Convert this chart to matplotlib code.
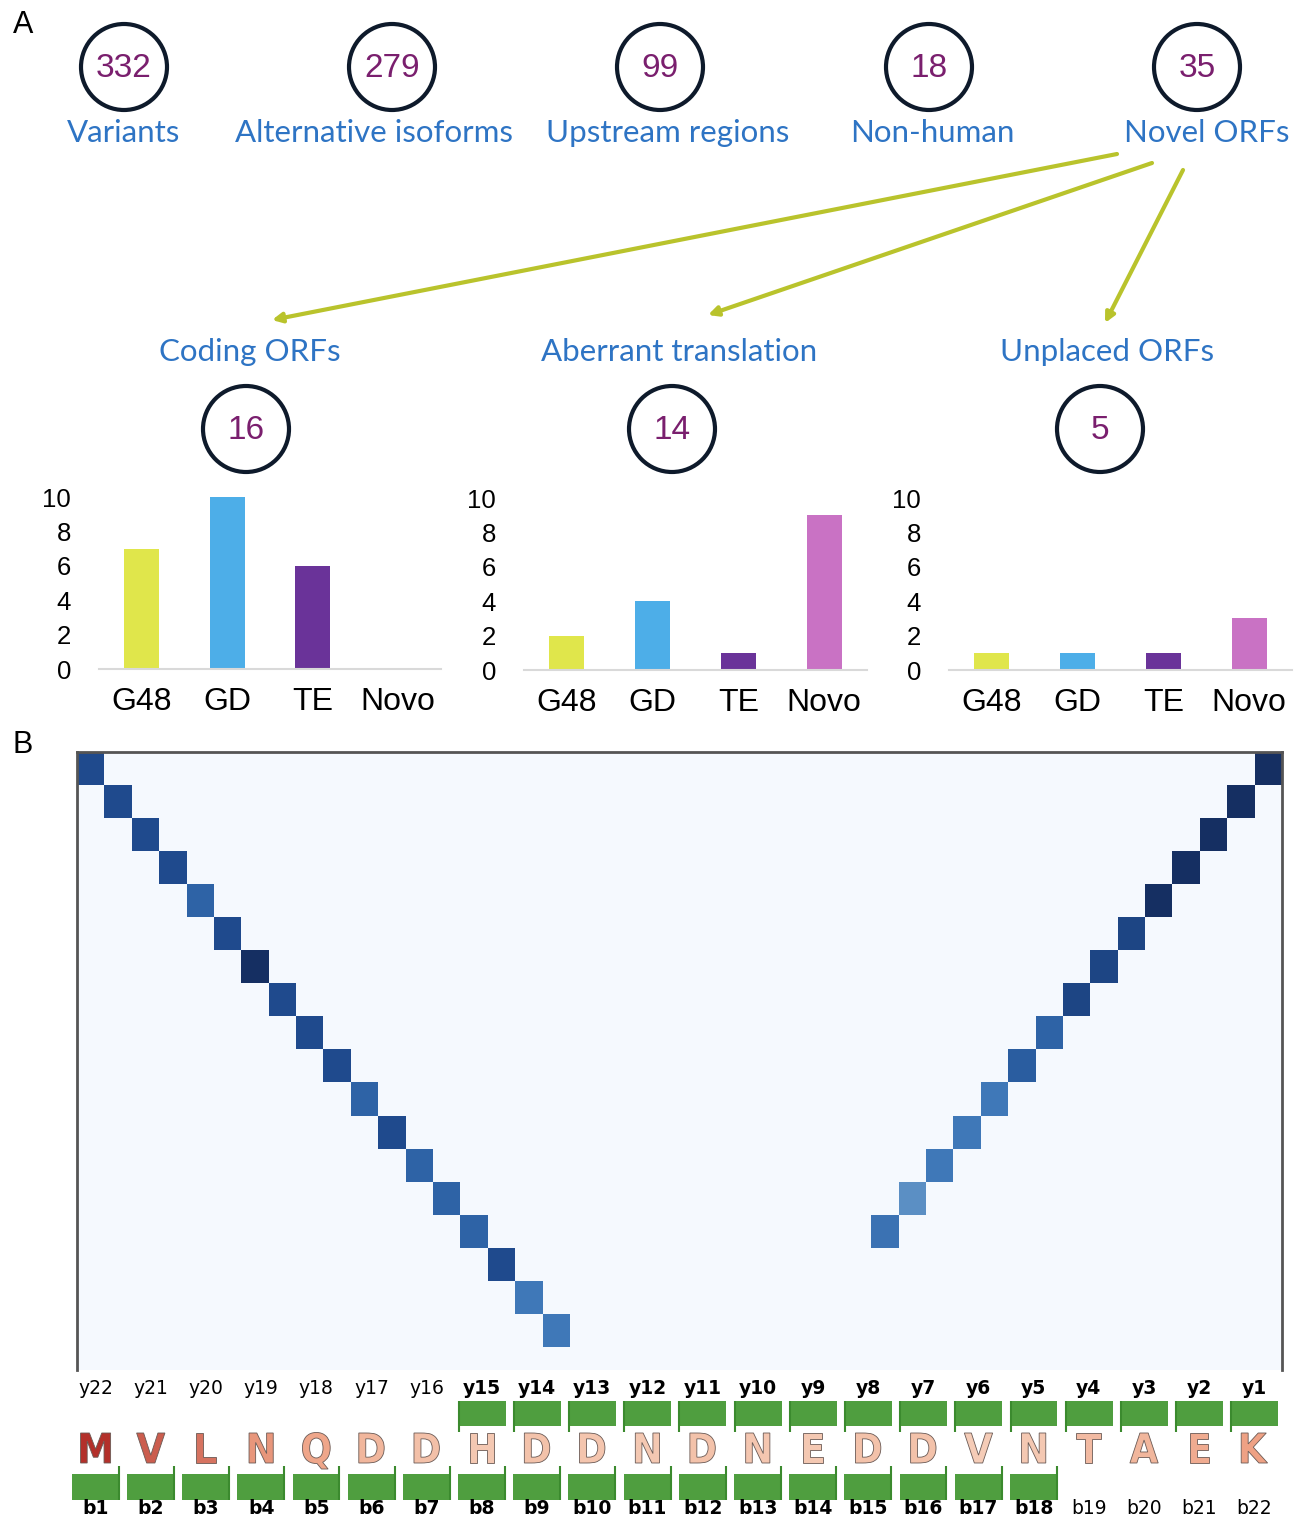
import numpy as np
import matplotlib
matplotlib.use('Agg')
import matplotlib.pyplot as plt
from matplotlib.patches import Ellipse, Rectangle, PathPatch
from matplotlib.textpath import TextPath
from matplotlib.font_manager import FontProperties
from matplotlib.colors import LinearSegmentedColormap
from matplotlib.transforms import Affine2D

# ---- panel A data ----
top_labels = ['Variants', 'Alternative isoforms', 'Upstream regions', 'Non-human', 'Novel ORFs']
top_counts = [332, 279, 99, 18, 35]

orf_labels = ['Coding ORFs', 'Aberrant translation', 'Unplaced ORFs']
orf_counts = [16, 14, 5]

origins = ['G48', 'GD', 'TE', 'Novo']
coding_counts = [7, 10, 6, 0]
aberrant_counts = [2, 4, 1, 9]
unplaced_counts = [1, 1, 1, 3]
origin_colors = ['#e0e64b', '#4daee8', '#6a3399', '#c972c4']

# ---- panel B data ----
sequence = 'MVLNQDDHDDNDNEDDVNTAEK'
# fragment ion intensities (b1.., y1..)
b_intensity = [0.88, 0.88, 0.88, 0.88, 0.80, 0.88, 0.98, 0.88, 0.88,
               0.88, 0.80, 0.88, 0.80, 0.80, 0.80, 0.88, 0.72, 0.72]
y_intensity = [0.98, 0.98, 0.98, 0.98, 0.98, 0.90, 0.90, 0.90, 0.80,
               0.82, 0.72, 0.72, 0.72, 0.60, 0.74]
residue_shade = [1.0, 0.8, 0.7, 0.55, 0.45, 0.3, 0.2, 0.12, 0.18, 0.15, 0.12,
                 0.18, 0.14, 0.12, 0.18, 0.18, 0.08, 0.12, 0.25, 0.3, 0.4, 0.5]

W, H = 1298, 1517
fig = plt.figure(figsize=(W / 100, H / 100), dpi=100)


def px_axes(l, t, r, b):
    return fig.add_axes([l / W, 1 - b / H, (r - l) / W, (b - t) / H])


purple = '#7a1f6e'
blue = '#2e74c4'
navy = '#0e1a2b'
arrow_col = '#b9c32c'
label_font = 'Lato'
num_font = 'Liberation Sans'

# overlay in pixel coordinates for the schematic part
ov = px_axes(0, 0, W, H)
ov.set_xlim(0, W)
ov.set_ylim(H, 0)
ov.axis('off')

ov.text(23, 25, 'A', fontsize=22, family=num_font, ha='center', va='center')
ov.text(23, 745, 'B', fontsize=22, family=num_font, ha='center', va='center')

circle_x = [124, 392, 660, 929, 1197]
label_x = [124, 374, 668, 932, 1207]
for cx, lx, n, lab in zip(circle_x, label_x, top_counts, top_labels):
    ov.add_patch(Ellipse((cx, 67), 86, 86, fill=False, ec=navy, lw=3))
    ov.text(cx, 68, str(n), color=purple, fontsize=24, family=num_font,
            ha='center', va='center')
    ov.text(lx, 133, lab, color=blue, fontsize=22.5, family=label_font,
            ha='center', va='center')

# arrows from Novel ORFs to the three subgroups
arrow_pairs = [((1117, 154), (272, 320)), ((1152, 163), (708, 315)),
               ((1183, 170), (1105, 323))]
for start, end in arrow_pairs:
    ov.annotate('', xy=end, xytext=start,
                arrowprops=dict(arrowstyle='-|>', color=arrow_col, lw=3,
                                mutation_scale=14, shrinkA=0, shrinkB=0))

sub_label_x = [250, 679, 1107]
sub_circle_x = [246, 672, 1100]
for lx, cx, n, lab in zip(sub_label_x, sub_circle_x, orf_counts, orf_labels):
    ov.text(lx, 352, lab, color=blue, fontsize=22.5, family=label_font,
            ha='center', va='center')
    ov.add_patch(Ellipse((cx, 429), 86, 86, fill=False, ec=navy, lw=3))
    ov.text(cx, 430, str(n), color=purple, fontsize=24, family=num_font,
            ha='center', va='center')

# three bar charts of ORF origin
chart_boxes = [(99, 497, 441, 669), (524, 498, 867, 670), (949, 498, 1292, 670)]
for box, counts in zip(chart_boxes, [coding_counts, aberrant_counts, unplaced_counts]):
    ax = px_axes(*box)
    ax.bar(range(len(origins)), counts, width=0.41, color=origin_colors)
    ax.set_xlim(-0.5, 3.5)
    ax.set_ylim(0, 10)
    ax.set_yticks([0, 2, 4, 6, 8, 10])
    ax.set_xticks(range(len(origins)))
    ax.set_xticklabels(origins, fontsize=23, family=num_font)
    for t in ax.get_yticklabels():
        t.set_fontsize(18.5)
        t.set_family(num_font)
    ax.tick_params(length=0, axis='y', pad=20)
    ax.tick_params(length=0, axis='x', pad=13)
    for s in ['top', 'right', 'left']:
        ax.spines[s].set_visible(False)
    ax.spines['bottom'].set_color('#d9d9d9')
    ax.spines['bottom'].set_linewidth(1.5)
    ax.patch.set_alpha(0)

# ---- panel B: fragment ion map ----
n_res = len(sequence)
n_cols = 2 * n_res
n_rows = max(len(b_intensity), len(y_intensity))
mat = np.zeros((n_rows + 1, n_cols))
for i, v in enumerate(b_intensity):
    mat[i, i] = v
for i, v in enumerate(y_intensity):
    mat[i, n_cols - 1 - i] = v

ion_cmap = LinearSegmentedColormap.from_list(
    'ions', [(0.0, '#f5f9fe'), (0.6, '#5b8fc4'), (0.72, '#3f78b8'),
             (0.8, '#2e63a6'), (0.88, '#1f4b8e'), (1.0, '#13295a')])

axh = px_axes(77, 752, 1282, 1370)
axh.pcolormesh(np.arange(n_cols + 1), np.arange(n_rows + 2), mat,
               cmap=ion_cmap, vmin=0, vmax=1)
axh.set_xlim(0, n_cols)
axh.set_ylim(n_rows + 0.7, 0)
axh.set_xticks([])
axh.set_yticks([])
for s in ['top', 'left', 'right']:
    axh.spines[s].set_color('#555555')
    axh.spines[s].set_linewidth(2)
axh.spines['bottom'].set_visible(False)

# sequence strip with fragment markers
axs = px_axes(68, 1375, 1282, 1517)
axs.set_xlim(0, n_res)
axs.set_ylim(1517, 1375)
axs.axis('off')

green = '#4f9e3f'
edge_green = '#3b8a2e'
res_cmap = LinearSegmentedColormap.from_list('res', ['#f6d4c0', '#eea184', '#b3302a'])
fp = FontProperties(family='DejaVu Sans', weight='bold')
x_unit = (1282 - 68) / n_res
cap_h = TextPath((0, 0), 'H', size=1, prop=fp).get_extents().height
glyph_scale = 30.0 / cap_h      # pixels per font unit, vertically
squeeze = 0.9                   # slightly condensed letters

for i, aa in enumerate(sequence):
    # y-ion label and marker
    y_num = n_res - i
    matched_y = y_num <= len(y_intensity)
    axs.text(i + 0.5, 1389, 'y%d' % y_num, ha='center', va='center', fontsize=13.5,
             family='DejaVu Sans', fontweight='bold' if matched_y else 'normal')
    if matched_y:
        axs.add_patch(Rectangle((i + 0.07, 1401), 0.86, 25, color=green, lw=0))
        axs.plot([i + 0.08, i + 0.08], [1401, 1432], color=edge_green, lw=1.5,
                 solid_capstyle='butt')
    # b-ion label and marker
    b_num = i + 1
    matched_b = b_num <= len(b_intensity)
    axs.text(i + 0.5, 1509, 'b%d' % b_num, ha='center', va='center', fontsize=13.5,
             family='DejaVu Sans', fontweight='bold' if matched_b else 'normal')
    if matched_b:
        axs.add_patch(Rectangle((i + 0.07, 1474), 0.86, 26, color=green, lw=0))
        axs.plot([i + 0.92, i + 0.92], [1466, 1500], color=edge_green, lw=1.5,
                 solid_capstyle='butt')

    # residue glyph on a common baseline
    tp = TextPath((0, 0), aa, size=1, prop=fp)
    ext = tp.get_extents()
    sx = glyph_scale * squeeze / x_unit
    tr = (Affine2D().translate(-ext.x0 - ext.width / 2, 0)
          .scale(sx, -glyph_scale).translate(i + 0.5, 1463))
    glyph = tr.transform_path(tp)
    axs.add_patch(PathPatch(glyph, fc=res_cmap(residue_shade[i]), ec='#6a5a55', lw=0.6))

fig.savefig('out.png', dpi=100)
